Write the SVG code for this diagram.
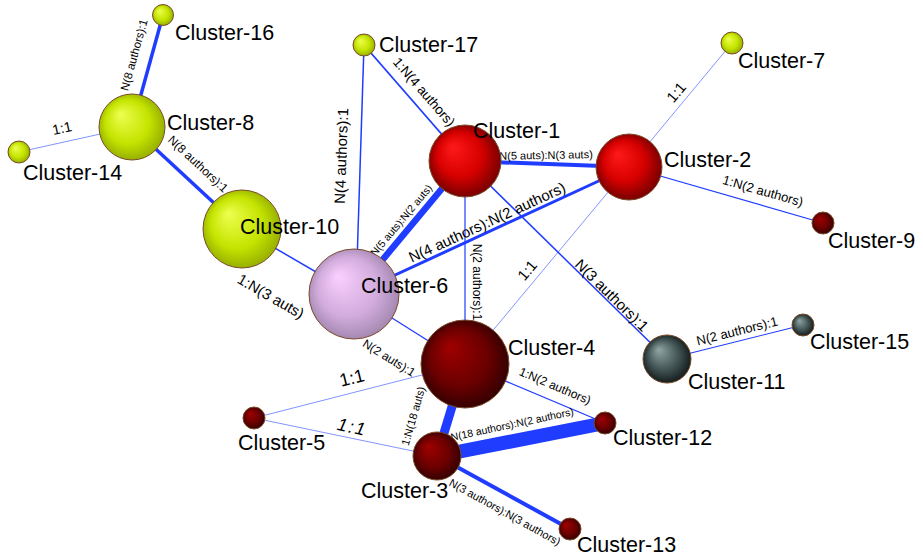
<svg xmlns="http://www.w3.org/2000/svg" width="923" height="557" viewBox="0 0 923 557">
<defs>
<radialGradient id="gY" cx="0.5" cy="0.5" r="0.55" fx="0.32" fy="0.3"><stop offset="0" stop-color="#eeff50"/><stop offset="0.6" stop-color="#c4e400"/><stop offset="1" stop-color="#8ea600"/></radialGradient>
<radialGradient id="gR" cx="0.5" cy="0.5" r="0.55" fx="0.32" fy="0.3"><stop offset="0" stop-color="#ff1a1a"/><stop offset="0.55" stop-color="#d80000"/><stop offset="1" stop-color="#680000"/></radialGradient>
<radialGradient id="gD" cx="0.5" cy="0.5" r="0.55" fx="0.32" fy="0.3"><stop offset="0" stop-color="#a00000"/><stop offset="0.6" stop-color="#6a0000"/><stop offset="1" stop-color="#2a0000"/></radialGradient>
<radialGradient id="gL" cx="0.5" cy="0.5" r="0.55" fx="0.32" fy="0.3"><stop offset="0" stop-color="#fad0ff"/><stop offset="0.6" stop-color="#d2acdc"/><stop offset="1" stop-color="#9c82aa"/></radialGradient>
<radialGradient id="gG" cx="0.5" cy="0.5" r="0.55" fx="0.32" fy="0.3"><stop offset="0" stop-color="#92a6a6"/><stop offset="0.6" stop-color="#3f5050"/><stop offset="1" stop-color="#0c1414"/></radialGradient>
</defs>
<style>
.e{stroke:#1f3cff;fill:none;stroke-linecap:butt}
.lt{stroke:#8294ff;stroke-width:1;fill:none}
.el{font-family:"Liberation Sans",Arial,sans-serif;fill:#000;text-anchor:middle;dominant-baseline:central}
.nl{font-family:"Liberation Sans",Arial,sans-serif;font-size:21.5px;fill:#000}
circle{stroke:#7a4a2a;stroke-width:1}
</style>
<g id="connectors">
<line class="e" x1="163" y1="15" x2="132" y2="127" stroke-width="3.5"/>
<line class="e" x1="132" y1="127" x2="242" y2="229" stroke-width="3.5"/>
<line class="lt" x1="19" y1="152" x2="132" y2="127"/>
<line class="e" x1="242" y1="229" x2="354" y2="294" stroke-width="1.5"/>
<line class="e" x1="364" y1="45" x2="356" y2="294" stroke-width="1.5"/>
<line class="e" x1="364" y1="45" x2="465" y2="161" stroke-width="1.8"/>
<line class="e" x1="465" y1="161" x2="629" y2="167" stroke-width="4"/>
<line class="e" x1="465" y1="161" x2="354" y2="294" stroke-width="6.5"/>
<line class="e" x1="629" y1="167" x2="354" y2="294" stroke-width="3"/>
<line class="e" x1="465" y1="161" x2="465" y2="364" stroke-width="1.2"/>
<line class="lt" x1="629" y1="167" x2="465" y2="364"/>
<line class="e" x1="465" y1="161" x2="667" y2="359" stroke-width="1.5"/>
<line class="lt" x1="629" y1="167" x2="732" y2="43"/>
<line class="e" x1="629" y1="167" x2="823" y2="223" stroke-width="1.2"/>
<line class="e" x1="667" y1="359" x2="803" y2="325" stroke-width="1.2"/>
<line class="e" x1="354" y1="294" x2="465" y2="364" stroke-width="1.3"/>
<line class="lt" x1="254" y1="418" x2="465" y2="364"/>
<line class="lt" x1="254" y1="418" x2="437" y2="456"/>
<line class="e" x1="437" y1="456" x2="465" y2="364" stroke-width="9"/>
<line class="e" x1="465" y1="364" x2="605" y2="423" stroke-width="1.3"/>
<line class="e" x1="437" y1="456" x2="605" y2="423" stroke-width="14"/>
<line class="e" x1="437" y1="456" x2="570" y2="529" stroke-width="4"/>
<text class="el" font-size="11.5" transform="translate(134,55) rotate(-74.5)">N(8 authors):1</text>
<text class="el" font-size="12" transform="translate(198,164) rotate(43)">N(8 authors):1</text>
<text class="el" font-size="14" transform="translate(62,128) rotate(-12.5)">1:1</text>
<text class="el" font-size="15" transform="translate(271,296) rotate(30)">1:N(3 auts)</text>
<text class="el" font-size="15" transform="translate(341,156) rotate(-88)">N(4 authors):1</text>
<text class="el" font-size="13.5" transform="translate(424,92) rotate(49)">1:N(4 authors)</text>
<text class="el" font-size="11" transform="translate(546,155) rotate(-1)">N(5 auts):N(3 auts)</text>
<text class="el" font-size="10.5" transform="translate(401,220) rotate(-50)">N(5 auts):N(2 auts)</text>
<text class="el" font-size="15" transform="translate(487,222) rotate(-24.8)">N(4 authors):N(2 authors)</text>
<text class="el" font-size="12" transform="translate(477,282) rotate(90)">N(2 authors):1</text>
<text class="el" font-size="15" transform="translate(527,270) rotate(-50)">1:1</text>
<text class="el" font-size="15" transform="translate(612,295) rotate(44.4)">N(3 authors):1</text>
<text class="el" font-size="15" transform="translate(676,92) rotate(-50)">1:1</text>
<text class="el" font-size="13" transform="translate(763,191) rotate(16)">1:N(2 authors)</text>
<text class="el" font-size="13" transform="translate(737,331) rotate(-14)">N(2 authors):1</text>
<text class="el" font-size="12" transform="translate(389,358) rotate(32)">N(2 auts):1</text>
<text class="el" font-size="18" transform="translate(352,378) rotate(-14)">1:1</text>
<text class="el" font-size="18" font-style="italic" letter-spacing="1.5" transform="translate(352,427) rotate(12)">1:1</text>
<text class="el" font-size="11" transform="translate(413,416) rotate(-74)">1:N(18 auts)</text>
<text class="el" font-size="12" transform="translate(555,386) rotate(23)">1:N(2 authors)</text>
<text class="el" font-size="10.5" transform="translate(512,424) rotate(-12)">N(18 authors):N(2 authors)</text>
<text class="el" font-size="11" transform="translate(505,512) rotate(29)">N(3 authors):N(3 authors)</text>
</g>
<g id="n16"><circle cx="163" cy="15" r="10.5" fill="url(#gY)"/><text class="nl" x="175" y="40">Cluster-16</text></g>
<g id="n8"><circle cx="132" cy="127" r="33" fill="url(#gY)"/><text class="nl" x="167" y="130">Cluster-8</text></g>
<g id="n14"><circle cx="19" cy="152" r="11" fill="url(#gY)"/><text class="nl" x="23" y="180">Cluster-14</text></g>
<g id="n10"><circle cx="242" cy="229" r="39" fill="url(#gY)"/><text class="nl" x="240" y="234">Cluster-10</text></g>
<g id="n6"><circle cx="354" cy="294" r="45" fill="url(#gL)"/><text class="nl" x="361" y="293">Cluster-6</text></g>
<g id="n17"><circle cx="364" cy="45" r="11" fill="url(#gY)"/><text class="nl" x="379" y="52">Cluster-17</text></g>
<g id="n1"><circle cx="465" cy="161" r="36" fill="url(#gR)"/><text class="nl" x="473" y="138">Cluster-1</text></g>
<g id="n2"><circle cx="629" cy="167" r="33" fill="url(#gR)"/><text class="nl" x="664" y="167">Cluster-2</text></g>
<g id="n7"><circle cx="732" cy="43" r="11" fill="url(#gY)"/><text class="nl" x="738" y="68">Cluster-7</text></g>
<g id="n9"><circle cx="823" cy="223" r="11" fill="url(#gD)"/><text class="nl" x="828" y="248">Cluster-9</text></g>
<g id="n4"><circle cx="465" cy="364" r="44" fill="url(#gD)"/><text class="nl" x="508" y="355">Cluster-4</text></g>
<g id="n11"><circle cx="667" cy="359" r="24" fill="url(#gG)"/><text class="nl" x="688" y="389">Cluster-11</text></g>
<g id="n15"><circle cx="803" cy="325" r="11" fill="url(#gG)"/><text class="nl" x="810" y="349">Cluster-15</text></g>
<g id="n12"><circle cx="605" cy="423" r="11" fill="url(#gD)"/><text class="nl" x="613" y="445">Cluster-12</text></g>
<g id="n5"><circle cx="254" cy="418" r="11" fill="url(#gD)"/><text class="nl" x="238" y="450">Cluster-5</text></g>
<g id="n3"><circle cx="437" cy="456" r="24" fill="url(#gD)"/><text class="nl" x="361" y="498">Cluster-3</text></g>
<g id="n13"><circle cx="570" cy="529" r="11" fill="url(#gD)"/><text class="nl" x="577" y="552">Cluster-13</text></g>
</svg>
